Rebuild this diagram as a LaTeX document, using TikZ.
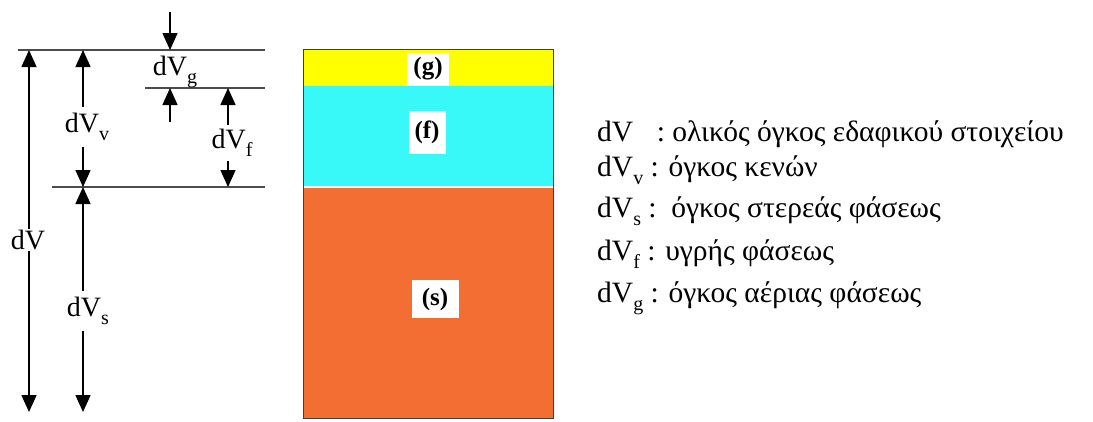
\documentclass[tikz,border=0pt]{standalone}
\usepackage{fontspec}
\setmainfont{Liberation Serif}
\usetikzlibrary{arrows.meta}
\newcommand\lowsub[1]{\raisebox{-0.6ex}{\fontsize{20}{20}\selectfont #1}}
\tikzset{
  tip/.tip={Triangle[width=15pt,length=17pt]},
  dimline/.style={line width=1.5pt, tip-tip},
  oneway/.style={line width=1.5pt, -tip},
  guide/.style={line width=1.3pt, draw=black!70},
  lab/.style={fill=white, inner sep=1pt, font=\fontsize{28}{30}\selectfont},
  phase/.style={draw=black!75, line width=0.8pt},
  tag/.style={fill=white, inner sep=0pt, font=\bfseries\fontsize{25}{26}\selectfont},
  legend/.style={anchor=base west, inner sep=0pt, font=\fontsize{29.5}{31}\selectfont}
}
\definecolor{gasc}{HTML}{FFFF00}
\definecolor{fluidc}{HTML}{38F8F8}
\definecolor{solidc}{HTML}{F26E32}
\begin{document}
\begin{tikzpicture}[x=1pt,y=-1pt]
\useasboundingbox (0,0) rectangle (1093,421);

% level lines of the three phases
\coordinate (t0) at (18,50);   \coordinate (t1) at (265,50);
\coordinate (m0) at (145,88);  \coordinate (m1) at (265,88);
\coordinate (b0) at (52,187);  \coordinate (b1) at (265,187);
\draw[guide] (t0) -- (t1);
\draw[guide] (m0) -- (m1);
\draw[guide] (b0) -- (b1);

% soil element
\fill[gasc]   (303,49) rectangle (553,86);
\fill[fluidc] (303,86) rectangle (553,186);
\fill[solidc] (303,188) rectangle (553,418);
\draw[phase] (303,49) rectangle (553,418);
\draw[white, line width=1.2pt] (303.5,187) -- (552.5,187);

\node[tag, minimum width=42pt, minimum height=33pt] (g) at (428,69) {(g)};
\node[tag, minimum width=37pt, minimum height=43pt] (f) at (427,132) {(f)};
\node[tag, minimum width=47pt, minimum height=38pt] (s) at (435,299) {(s)};

% dimension arrows
\coordinate (dVtop) at (29,50);  \coordinate (dVbot) at (29,412);
\coordinate (vtop) at (83,50);   \coordinate (vbot) at (83,187);
\coordinate (sbot) at (83,412);
\coordinate (ftop) at (228,88);  \coordinate (fbot) at (228,187);
\coordinate (gin) at (170,12);   \coordinate (gtop) at (170,50);
\coordinate (gout) at (170,122); \coordinate (gbot) at (170,88);

\draw[dimline] (dVtop) -- (dVbot);
\draw[dimline] (vtop) -- (vbot);
\draw[dimline] (vbot) -- (sbot);
\draw[dimline] (ftop) -- (fbot);
\draw[oneway] (gin) -- (gtop);
\draw[oneway] (gout) -- (gbot);

\node[lab] (ldV) at (28,240) {dV};
\node[lab, inner ysep=6pt] (ldVv) at (87,127) {dV\lowsub{v}};
\node[lab, inner ysep=6pt] (ldVs) at (88,311) {dV\lowsub{s}};
\node[lab, inner ysep=4pt] (ldVf) at (232,143) {dV\lowsub{f}};
\node[lab, fill=none] (ldVg) at (175,72) {dV\lowsub{g}};

% legend
\node[legend] (k1) at (597,141) {dV\hspace{0.8em}: ολικός όγκος εδαφικού στοιχείου};
\node[legend] (k2) at (597,176) {dV\lowsub{v} : όγκος κενών};
\node[legend] (k3) at (597,217) {dV\lowsub{s} :\ \ όγκος στερεάς φάσεως};
\node[legend] (k4) at (597,260) {dV\lowsub{f} : υγρής φάσεως};
\node[legend] (k5) at (597,302) {dV\lowsub{g} : όγκος αέριας φάσεως};
\end{tikzpicture}
\end{document}
